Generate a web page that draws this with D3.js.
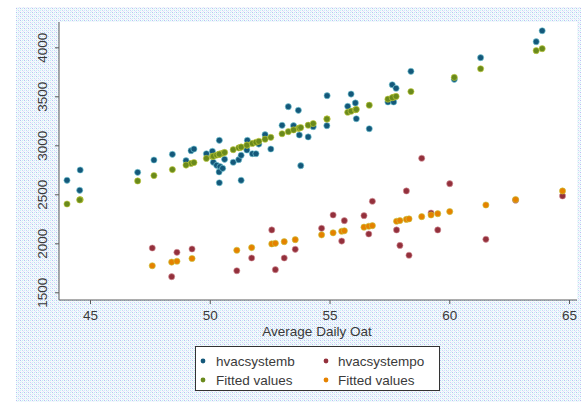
<!DOCTYPE html>
<html><head><meta charset="utf-8">
<script src="https://cdn.jsdelivr.net/npm/d3@7"></script>
<style>
html,body{margin:0;padding:0;background:#fff;}
svg{display:block;font-family:"Liberation Sans",Arial,sans-serif;}
</style></head>
<body>
<svg id="c" width="581" height="404"></svg>
<script>
// hvacsystemb: Average Daily Oat vs value
const bX = [44.04,44.59,44.57,46.99,47.67,48.44,49.22,49.34,49.01,49.86,50.11,50.40,50.15,50.29,50.43,50.39,50.54,50.40,50.62,50.98,51.21,51.31,51.31,51.57,51.55,51.78,51.93,52.31,52.05,52.55,53.02,53.28,53.70,53.74,53.50,54.11,54.32,53.80,54.90,54.89,55.76,55.90,56.08,56.12,56.66,57.44,57.68,57.62,57.78,58.40,60.21,61.31,63.63,63.88];
const bY = [2643,2748,2541,2724,2850,2908,2945,2962,2843,2914,2939,3051,2827,2796,2782,2728,2765,2618,2857,2827,2853,2898,2643,3051,2952,2914,2914,3108,3013,2962,3204,3394,3357,3105,3200,3085,3190,2792,3506,3200,3398,3523,3432,3271,3169,3442,3442,3618,3582,3755,3673,3894,4057,4169];
const bFit = [2401,2445,2443,2636,2691,2752,2815,2824,2798,2866,2886,2909,2889,2900,2911,2908,2920,2909,2927,2955,2974,2982,2982,3002,3001,3019,3031,3062,3041,3081,3118,3139,3173,3176,3157,3205,3222,3181,3269,3268,3337,3348,3363,3366,3409,3471,3491,3486,3499,3548,3693,3781,3966,3986];
// hvacsystempo
const pX = [47.60,48.41,48.63,49.26,51.13,51.75,52.59,52.74,53.11,53.57,54.67,55.15,55.51,55.62,56.44,56.64,56.79,57.80,57.94,58.21,58.32,58.85,59.24,59.52,60.02,61.53,62.77,64.73];
const pY = [1952,1659,1908,1942,1720,1850,2136,1731,1850,1939,2153,2289,2023,2231,2282,2095,2429,2136,1978,2534,1878,2868,2309,2136,2608,2041,2440,2483];
const pFit = [1771,1808,1817,1845,1929,1956,1994,2000,2017,2037,2086,2107,2123,2128,2165,2174,2180,2225,2232,2244,2249,2272,2289,2302,2324,2391,2447,2534];

const xTicks = [45,50,55,60,65];
const yTicks = [1500,2000,2500,3000,3500,4000];
const xTitle = "Average Daily Oat";
const legendLabels = ["hvacsystemb","hvacsystempo","Fitted values","Fitted values"];
const colors = {b:"#14587a", p:"#93303c", bf:"#6a8a1c", pf:"#e58200"};
const halos = {b:"#7fd2dc", p:"#d99aa0", bf:"#c8d040", pf:"#c8c840"};

const svg = d3.select("#c");
const defs = svg.append("defs");
const pat = defs.append("pattern").attr("id","bgp").attr("patternUnits","userSpaceOnUse")
  .attr("width",4).attr("height",4);
pat.append("rect").attr("width",4).attr("height",4).attr("fill","#f6f8fd");
pat.append("rect").attr("x",0).attr("y",0).attr("width",1).attr("height",1).attr("fill","#b9bff2");
pat.append("rect").attr("x",2).attr("y",0).attr("width",1).attr("height",1).attr("fill","#bdf0f2");
pat.append("rect").attr("x",0).attr("y",2).attr("width",1).attr("height",1).attr("fill","#c6f2f4");
pat.append("rect").attr("x",2).attr("y",2).attr("width",1).attr("height",1).attr("fill","#cdd2f6");
pat.append("rect").attr("x",1).attr("y",1).attr("width",1).attr("height",1).attr("fill","#e4f6f8");
pat.append("rect").attr("x",3).attr("y",3).attr("width",1).attr("height",1).attr("fill","#e4e6fa");

svg.append("rect").attr("x",16).attr("y",7).attr("width",565).attr("height",395).attr("fill","url(#bgp)");

const L=59, R=577, T=22, B=300;
svg.append("rect").attr("x",L).attr("y",T).attr("width",R-L).attr("height",B-T).attr("fill","#fff");

const x = d3.scaleLinear().domain([45,65]).range([90,569]);
const y = d3.scaleLinear().domain([1500,4000]).range([292.3,47.3]);

const txt = "#3a3a3a", axc = "#5a5a5a";
// x axis
const xa = svg.append("g").attr("transform",`translate(0,${B})`)
  .call(d3.axisBottom(x).tickValues(xTicks).tickSize(4).tickPadding(6).tickFormat(d3.format("d")));
xa.select(".domain").remove();
xa.append("line").attr("x1",L).attr("x2",R).attr("stroke",axc);
xa.selectAll(".tick line").attr("stroke",axc);
xa.selectAll(".tick text").attr("font-size","13.5px").attr("fill",txt).attr("font-family","Liberation Sans, Arial, sans-serif");
// y axis
const ya = svg.append("g").attr("transform",`translate(${L},0)`)
  .call(d3.axisLeft(y).tickValues(yTicks).tickSize(4).tickFormat(d3.format("d")));
ya.select(".domain").remove();
ya.append("line").attr("y1",T).attr("y2",B).attr("stroke",axc);
ya.selectAll(".tick line").attr("stroke",axc);
ya.selectAll(".tick text").remove();
ya.selectAll(".tick").append("text")
  .attr("transform","translate(-12,0) rotate(-90)")
  .attr("text-anchor","middle").attr("font-size","13.5px").attr("fill",txt)
  .attr("font-family","Liberation Sans, Arial, sans-serif")
  .text(d=>d3.format("d")(d));

svg.append("text").attr("x",317).attr("y",336).attr("text-anchor","middle")
  .attr("font-size","13.5px").attr("fill",txt).text(xTitle);

function dots(xs, ys, key){
  svg.append("g").selectAll("circle").data(xs.map((v,i)=>[v,ys[i]])).join("circle")
    .attr("cx",d=>x(d[0])).attr("cy",d=>y(d[1])).attr("r",3.1)
    .attr("fill",colors[key]).attr("stroke",halos[key]).attr("stroke-width",1).attr("stroke-opacity",0.6);
}
dots(bX,bY,"b");
dots(pX,pY,"p");
dots(bX,bFit,"bf");
dots(pX,pFit,"pf");

// legend
const lg = svg.append("g");
lg.append("rect").attr("x",195.5).attr("y",346.5).attr("width",244).attr("height",44)
  .attr("fill","#fff").attr("stroke","#333").attr("stroke-width",1);
const keys = ["b","p","bf","pf"];
const lx = [203,326], tx=[216,338], ly=[361,380];
keys.forEach((k,i)=>{
  const c=i%2, r=Math.floor(i/2);
  lg.append("circle").attr("cx",lx[c]).attr("cy",ly[r]).attr("r",2.4).attr("fill",colors[k]);
  lg.append("text").attr("x",tx[c]).attr("y",ly[r]+5).attr("font-size","13.5px").attr("fill",txt).text(legendLabels[i]);
});
</script>
</body></html>
